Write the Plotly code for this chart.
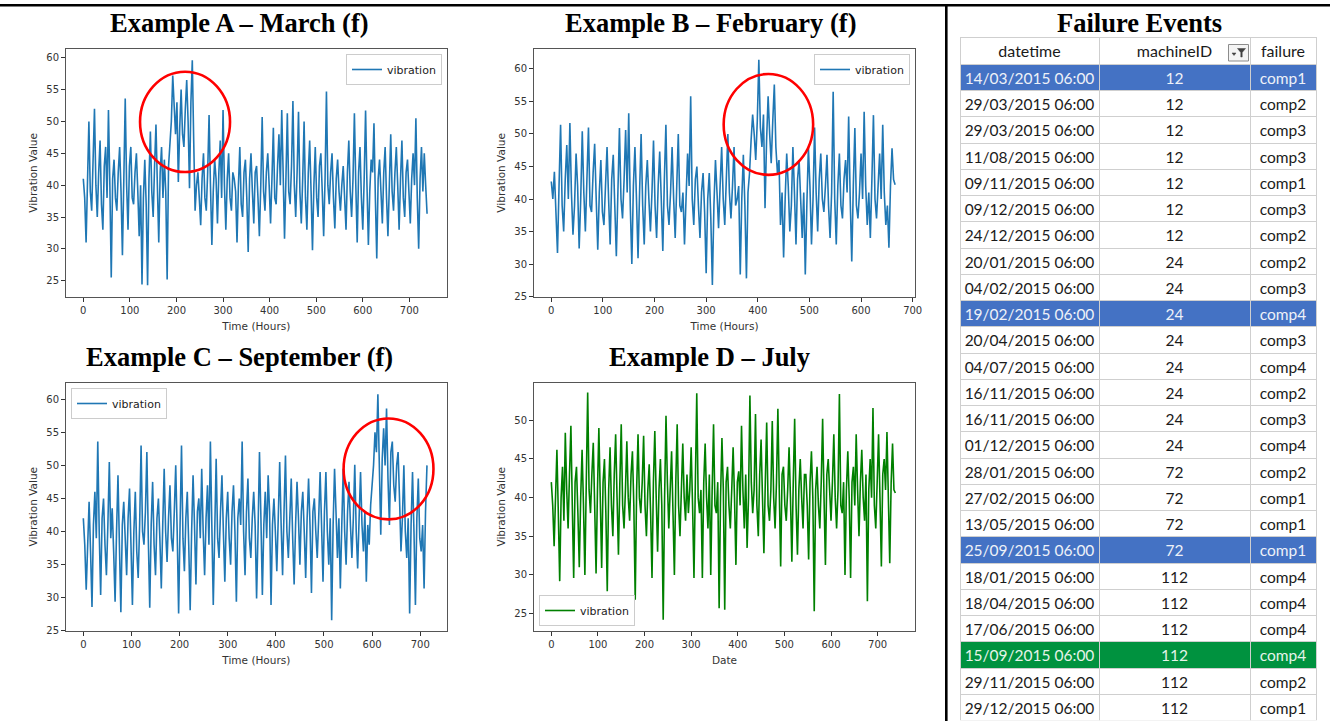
import plotly.graph_objects as go

W, H = 1330, 721
STEP = 3  # hours between stored readings

# ---------------- data ----------------
vib_march = [41, 38, 31, 43, 50, 39, 36, 44, 52, 40,
             35, 42, 47, 37, 33, 43, 46, 38, 51.8, 40,
             25.5, 41, 44, 38, 36, 42, 46, 39, 29, 41,
             53.6, 40, 33, 43, 46, 38, 37, 42, 45, 39,
             32, 40, 24.4, 38, 44, 37, 24.3, 41, 48.4, 39,
             35, 43, 49.5, 40, 31, 42, 46, 38, 44, 39,
             25.2, 43, 46, 50, 57.2, 51, 48, 53, 40.5, 49,
             55, 48, 46, 52, 56.5, 50, 39.5, 53, 59.6, 47,
             36, 40, 42, 38, 33.7, 41, 45, 38, 36, 42,
             51, 40, 30.6, 39, 44, 41, 34, 42, 47, 38,
             51.8, 40, 33, 41, 45, 38, 36, 42, 41, 39,
             31, 40, 46, 37, 35, 42, 44, 38, 29.5, 41,
             45, 39, 34, 42, 43, 38, 32, 40, 50.7, 39,
             36, 42, 45, 40, 34, 41, 49, 38, 37, 43,
             48, 40, 51.8, 42, 31.6, 41, 51.3, 39, 37, 43,
             53.2, 40, 35, 42, 51.5, 39, 34, 41, 50, 38,
             33, 42, 47, 39, 29.8, 40, 46, 38, 35, 43,
             45, 39, 32, 41, 54.7, 40, 37, 42, 45, 38,
             33.2, 41, 44, 39, 36, 40, 43, 38, 33, 42,
             47, 39, 35, 41, 51.3, 40, 31, 42, 46, 38,
             33, 41, 51.7, 40, 30.6, 39, 44, 42, 49.7, 38,
             28.5, 41, 44, 39, 34, 42, 46, 38, 32, 40,
             48, 39, 36, 42, 46, 40, 33, 41, 47, 38,
             35, 42, 44, 39, 34, 41, 45, 40, 50.5, 38,
             30, 41, 46, 39, 45, 40, 35.5]

vib_feb = [42.7, 40, 44.2, 38, 31.7, 42, 51.4, 39, 35, 43,
           48.3, 40, 51.7, 41, 34.5, 39, 47, 42, 32.4, 40,
           50.4, 41, 35, 43, 51, 39, 38, 44, 48.5, 40,
           32.2, 41, 46, 38, 36, 42, 48, 40, 33, 43,
           46.8, 39, 31.2, 41, 50.9, 40, 37, 43, 50.6, 41,
           53.2, 39, 30, 42, 48, 40, 30.9, 41, 50, 39,
           33, 42, 46, 40, 35, 41, 49, 39, 34, 42,
           47.3, 40, 32, 43, 51.4, 39, 36, 41, 48, 40,
           34, 42, 50, 39, 38, 41, 33, 40, 47, 42,
           55.8, 40, 36, 43, 45, 39, 34, 41, 44, 38,
           28.6, 40, 44, 37, 26.8, 39, 46, 41, 35.5, 42,
           48, 40, 36, 43, 50, 41, 37, 42, 48, 39,
           40, 42, 28.4, 40, 46.8, 39, 27.8, 41, 44, 49,
           53, 50, 46, 52, 61.4, 51, 48, 53, 38.6, 49,
           55.8, 50, 45.5, 52, 57.6, 48, 44, 46, 36, 41,
           31, 40, 47, 42, 35, 39, 48, 41, 33, 43,
           46, 40, 34, 41, 28.4, 39, 48, 42, 33, 40,
           51, 41, 35, 43, 47, 40, 38, 42, 46.8, 39,
           34, 41, 56.5, 40, 33, 42, 47, 39, 37, 43,
           46, 41, 52.7, 40, 30.4, 42, 50.9, 39, 37, 41,
           47, 40, 53.4, 42, 36, 41, 34, 43, 52.9, 40,
           37, 42, 47, 40, 51.4, 41, 36, 39, 32.5, 42,
           47.8, 43, 42.2]

vib_sep = [42, 38, 31.2, 40, 44.5, 37, 28.6, 41, 46, 39,
           53.6, 40, 30.4, 42, 45, 38, 33.4, 41, 50.5, 39,
           43.5, 37, 29.4, 40, 48.5, 38, 27.8, 41, 44.5, 39,
           33.4, 42, 46.5, 38, 28.9, 40, 46, 37, 33, 41,
           53, 40, 38, 43, 52, 39, 28.5, 41, 47.5, 38,
           33.4, 42, 45, 39, 31.4, 41, 49.5, 40, 35.4, 42,
           47, 39, 37, 43, 50, 40, 27.6, 41, 53, 39,
           34, 42, 46, 38, 28.1, 40, 48.5, 41, 32, 43,
           45, 39, 49.5, 40, 33.4, 42, 47, 38, 53.6, 41,
           28.9, 40, 51, 39, 36, 43, 48.5, 40, 32.4, 42,
           46, 39, 35, 43, 47, 40, 29.4, 42, 45, 41,
           53.6, 40, 33.4, 43, 48, 39, 36, 42, 46, 41,
           29.9, 40, 52, 42, 30.4, 41, 46, 39, 48.5, 43,
           28.9, 41, 45, 40, 34, 42, 50.5, 41, 33.4, 43,
           51.5, 40, 36, 42, 48, 39, 32, 41, 47.5, 42,
           35, 43, 46, 40, 33, 42, 48, 41, 30.7, 43,
           45, 40, 36, 42, 49, 41, 32.4, 43, 49, 40,
           35, 42, 26.6, 41, 49.5, 43, 36, 42, 31.4, 41,
           49.5, 40, 35, 43, 47.5, 41, 36, 42, 50.1, 40,
           34.4, 42, 49, 41, 37, 43, 32.4, 41, 38, 44,
           47, 50, 55, 52, 60.75, 49, 39.5, 51, 55.6, 50,
           58.6, 48, 41, 52, 53.6, 47, 44.5, 50, 52, 45,
           37, 42, 50, 40, 36, 42, 27.6, 41, 49, 40,
           28.9, 42, 48, 39, 37, 41, 31.4, 43, 50]

vib_jul = [42, 39, 33.7, 41, 46.2, 38, 29.2, 40, 44, 37,
           48.4, 41, 36, 43, 49.3, 39, 29.6, 42, 44, 38,
           31, 40, 46.2, 39, 30, 42, 53.6, 41, 38, 43,
           47.1, 39, 30.2, 41, 49, 40, 30.9, 42, 45, 38,
           27.9, 41, 46.5, 39, 35, 43, 48.2, 40, 32.6, 42,
           49.5, 39, 36, 41, 47.3, 40, 37, 43, 46, 39,
           26.8, 41, 48.2, 40, 38, 42, 48, 39, 35, 41,
           44.3, 38, 29.6, 42, 48.6, 40, 33, 41, 45, 39,
           24.2, 40, 50.6, 42, 36, 41, 46, 38, 30, 42,
           49.5, 39, 35, 41, 47, 40, 37, 43, 38, 41,
           46.5, 39, 29.6, 42, 53.5, 40, 38, 41, 29.6, 42,
           47, 40, 36, 43, 30, 41, 49.5, 39, 38, 42,
           25.7, 40, 47.7, 41, 25.5, 42, 44, 39, 36, 41,
           46.5, 40, 31.3, 42, 43.4, 39, 49.3, 41, 36, 43,
           33.5, 40, 53.2, 42, 38, 41, 50.8, 39, 35, 43,
           47.5, 40, 32.8, 42, 49.7, 39, 37, 41, 49.9, 40,
           36, 42, 51.5, 41, 31.1, 43, 44, 39, 37, 41,
           46.5, 40, 31.7, 42, 50.2, 39, 32.6, 41, 45, 40,
           36, 43, 43, 39, 32, 42, 46, 40, 25.3, 41,
           44, 39, 36, 42, 50.2, 40, 31.3, 43, 45, 41,
           37, 42, 48.2, 40, 36, 41, 53.4, 39, 38, 42,
           30, 41, 46, 40, 29.6, 42, 44, 39, 48.2, 41,
           35, 42, 46.2, 40, 37, 43, 26.6, 41, 45, 40,
           51.6, 39, 36, 42, 48.2, 40, 31.1, 43, 45, 41,
           48.5, 40, 31.5, 42, 47, 41, 40.6]

x_ticks = [0, 100, 200, 300, 400, 500, 600, 700]
y_ticks = [25, 30, 35, 40, 45, 50, 55, 60]

fail_datetime = ["14/03/2015 06:00", "29/03/2015 06:00", "29/03/2015 06:00", "11/08/2015 06:00",
                 "09/11/2015 06:00", "09/12/2015 06:00", "24/12/2015 06:00", "20/01/2015 06:00",
                 "04/02/2015 06:00", "19/02/2015 06:00", "20/04/2015 06:00", "04/07/2015 06:00",
                 "16/11/2015 06:00", "16/11/2015 06:00", "01/12/2015 06:00", "28/01/2015 06:00",
                 "27/02/2015 06:00", "13/05/2015 06:00", "25/09/2015 06:00", "18/01/2015 06:00",
                 "18/04/2015 06:00", "17/06/2015 06:00", "15/09/2015 06:00", "29/11/2015 06:00",
                 "29/12/2015 06:00"]
fail_machine = [12, 12, 12, 12, 12, 12, 12, 24, 24, 24, 24, 24, 24, 24, 24,
                72, 72, 72, 72, 112, 112, 112, 112, 112, 112]
fail_comp = ["comp1", "comp2", "comp3", "comp3", "comp1", "comp3", "comp2", "comp2", "comp3",
             "comp4", "comp3", "comp4", "comp2", "comp3", "comp4", "comp2", "comp1", "comp1",
             "comp1", "comp4", "comp4", "comp4", "comp4", "comp2", "comp1"]
highlight_blue = [0, 9, 18]
highlight_green = [22]

# ---------------- figure ----------------
BLUE = "#1f77b4"
GREEN = "#008000"

def hours(vals):
    return [STEP * i for i in range(len(vals))]

fig = go.Figure()
series = [
    (vib_march, BLUE, "x", "y", "legend"),
    (vib_feb, BLUE, "x2", "y2", "legend2"),
    (vib_sep, BLUE, "x3", "y3", "legend3"),
    (vib_jul, GREEN, "x4", "y4", "legend4"),
]
for vals, col, xa, ya, lg in series:
    fig.add_trace(go.Scatter(x=hours(vals), y=vals, mode="lines", name="vibration",
                             line=dict(color=col, width=1.6), xaxis=xa, yaxis=ya,
                             legend=lg, showlegend=True))

def px_x(p):
    return p / W

def px_y(p):
    return 1 - p / H

axis_common = dict(showgrid=False, zeroline=False, showline=True, mirror=True,
                   automargin=False,
                   linecolor="#555", linewidth=1, ticks="outside", ticklen=4,
                   tickwidth=1, tickcolor="#333",
                   tickfont=dict(family="DejaVu Sans", size=10, color="#333"))
title_font = dict(family="DejaVu Sans", size=10.5, color="#333")

def xax(dom, rng, anchor, title):
    return dict(domain=dom, range=rng, anchor=anchor, tickvals=x_ticks,
                title=dict(text=title, font=title_font, standoff=7), **axis_common)

def yax(dom, rng, anchor):
    return dict(domain=dom, range=rng, anchor=anchor, tickvals=y_ticks,
                title=dict(text="Vibration Value", font=title_font, standoff=6), **axis_common)

top_dom = [px_y(296.7), px_y(49)]
bot_dom = [px_y(631), px_y(382.5)]
left_dom = [px_x(66), px_x(446.7)]
right_dom = [px_x(534), px_x(915)]

fig.update_layout(
    xaxis=xax(left_dom, [-37.15, 780.15], "y", "Time (Hours)"),
    yaxis=yax(top_dom, [22.49, 61.37], "x"),
    xaxis2=xax(right_dom, [-33.5, 704.5], "y2", "Time (Hours)"),
    yaxis2=yax(top_dom, [24.98, 63.07], "x2"),
    xaxis3=xax(left_dom, [-36.0, 755.0], "y3", "Time (Hours)"),
    yaxis3=yax(bot_dom, [24.97, 62.52], "x3"),
    xaxis4=xax(right_dom, [-37.15, 780.15], "y4", "Date"),
    yaxis4=yax(bot_dom, [22.75, 54.89], "x4"),
)

leg_common = dict(bgcolor="rgba(255,255,255,0.9)", bordercolor="#cccccc", borderwidth=1,
                  font=dict(family="DejaVu Sans", size=11, color="#222"), itemwidth=30)
fig.update_layout(
    legend=dict(x=px_x(442), y=px_y(54), xanchor="right", yanchor="top", **leg_common),
    legend2=dict(x=px_x(910), y=px_y(54), xanchor="right", yanchor="top", **leg_common),
    legend3=dict(x=px_x(71), y=px_y(388), xanchor="left", yanchor="top", **leg_common),
    legend4=dict(x=px_x(539), y=px_y(626), xanchor="left", yanchor="bottom", **leg_common),
)

# red circles marking the anomaly windows (data coordinates)
circles = [("x", "y", 121.8, 315.0, 42.06, 57.8),
           ("x2", "y2", 333.9, 507.2, 43.72, 59.23),
           ("x3", "y3", 540.8, 727.5, 41.84, 57.09)]
shapes = []
for xr, yr, x0, x1, y0, y1 in circles:
    shapes.append(dict(type="circle", xref=xr, yref=yr, x0=x0, x1=x1, y0=y0, y1=y1,
                       line=dict(color="#ff0000", width=2.6)))

# frame lines of the composite
shapes.append(dict(type="line", xref="paper", yref="paper", x0=0, x1=1,
                   y0=px_y(5.2), y1=px_y(5.2), line=dict(color="black", width=2.6)))
shapes.append(dict(type="line", xref="paper", yref="paper", x0=px_x(946.3), x1=px_x(946.3),
                   y0=0, y1=px_y(4), line=dict(color="black", width=2.6)))
# filter button in the table header
shapes.append(dict(type="rect", xref="paper", yref="paper", x0=px_x(1228.5), x1=px_x(1248.5),
                   y0=px_y(61), y1=px_y(44.5), fillcolor="#f4f4f4",
                   line=dict(color="#8c8c8c", width=1)))
fx = lambda p: f"{p / W:.6f}"
fy = lambda p: f"{1 - p / H:.6f}"
funnel = (f"M{fx(1237.5)},{fy(48.5)} L{fx(1245.5)},{fy(48.5)} L{fx(1242.2)},{fy(52.5)} "
          f"L{fx(1242.2)},{fy(57)} L{fx(1240.8)},{fy(57)} L{fx(1240.8)},{fy(52.5)} Z")
arrow = f"M{fx(1232)},{fy(53)} L{fx(1236)},{fy(53)} L{fx(1234)},{fy(55.5)} Z"
for pth in (funnel, arrow):
    shapes.append(dict(type="path", xref="paper", yref="paper", path=pth,
                       fillcolor="#404040", line=dict(color="#404040", width=0.5)))
fig.update_layout(shapes=shapes)

# titles
head_font = dict(family="Liberation Serif", size=26.5, color="black")
titles = [("Example A \u2013 March (f)", 239, 23),
          ("Example B \u2013 February (f)", 710, 23),
          ("Example C \u2013 September (f)", 239, 357),
          ("Example D \u2013 July", 709.5, 357),
          ("Failure Events", 1139.5, 23)]
fig.update_layout(annotations=[
    dict(text=f"<b>{t}</b>", x=px_x(xc), y=px_y(yc), xref="paper", yref="paper",
         xanchor="center", yanchor="middle", showarrow=False, font=head_font)
    for t, xc, yc in titles])

# failure events table
n = len(fail_datetime)
fills, fcolors = [], []
for i in range(n):
    if i in highlight_blue:
        fills.append("#4472c4"); fcolors.append("#eef1f8")
    elif i in highlight_green:
        fills.append("#00923f"); fcolors.append("#e6f4ea")
    else:
        fills.append("white"); fcolors.append("#1a1a1a")

tfont = "Lato"
shown_dates = [d.replace(" ", "\u00a0") for d in fail_datetime]
fig.add_trace(go.Table(
    domain=dict(x=[px_x(960), px_x(1316.7)], y=[0, px_y(37.3)]),
    columnwidth=[139, 151, 66],
    header=dict(values=["datetime", "machineID", "failure"], height=27,
                fill_color="white", line=dict(color="#cfcfcf", width=1), align="center",
                font=dict(family=tfont, size=16, color="#1a1a1a")),
    cells=dict(values=[shown_dates, fail_machine, fail_comp], height=26.25,
               fill_color=[fills, fills, fills], line=dict(color="#cfcfcf", width=1),
               align="center", font=dict(family=tfont, size=15.5, color=[fcolors] * 3)),
))

fig.update_layout(width=W, height=H, autosize=False,
                  margin=dict(l=0, r=0, t=0, b=0, autoexpand=False),
                  paper_bgcolor="white", plot_bgcolor="white")

fig.write_html(
    "out.html",
    config={"displayModeBar": False},
    post_script=("document.documentElement.style.margin='0';"
                 "document.body.style.margin='0';document.body.style.padding='0';"
                 "document.documentElement.style.overflow='hidden';"
                 "document.body.style.overflow='hidden';"),
)
